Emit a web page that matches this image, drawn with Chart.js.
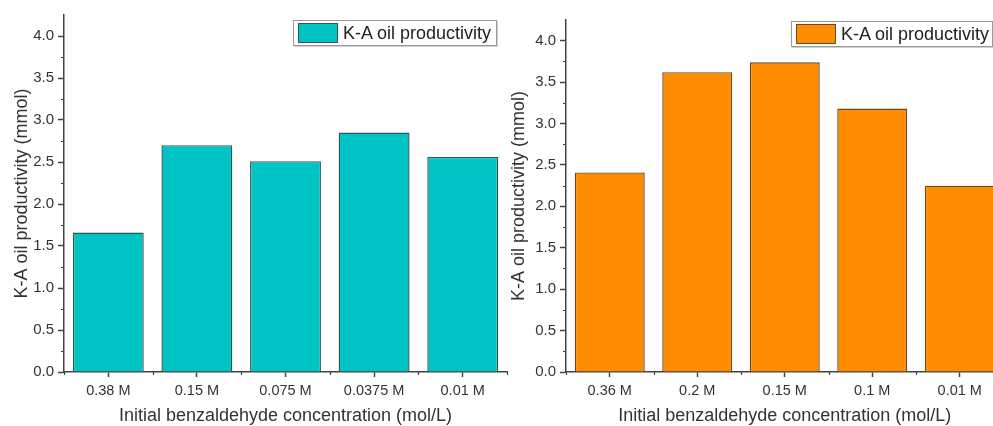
<!DOCTYPE html>
<html>
<head>
<meta charset="utf-8">
<script src="https://cdn.jsdelivr.net/npm/chart.js@4"></script>
<style>
  html, body { margin:0; padding:0; background:#fff; }
  body { width:993px; height:426px; overflow:hidden; position:relative; font-family:"Liberation Sans", Arial, sans-serif; }
  canvas { position:absolute; top:0; }
  .lg { position:absolute; height:24px; border:1px solid #9a9a9a; background:#fff; box-shadow:1px 1px 0 #d0d0d0; }
  .lg .sw { position:absolute; left:4px; top:2px; width:38px; height:18px; }
  .lg span { position:absolute; left:49px; top:1px; font-size:18px; line-height:22px; color:#222; white-space:nowrap; }
</style>
</head>
<body>
<canvas id="cA" width="520" height="426" style="left:0"></canvas>
<canvas id="cB" width="520" height="426" style="left:502px"></canvas>

<div class="lg" style="left:293px;top:20px;width:202px">
  <div class="sw" style="background:#00C4C4;border:1px solid #2A5858"></div><span>K-A oil productivity</span>
</div>
<div class="lg" style="left:791px;top:21px;width:200px">
  <div class="sw" style="background:#FF8C00;border:1px solid #6B4A1F"></div><span>K-A oil productivity</span>
</div>

<script>
// ── data ─────────────────────────────────────────────
const categoriesA   = ['0.38 M', '0.15 M', '0.075 M', '0.0375 M', '0.01 M'];
const productivityA = [1.66, 2.70, 2.51, 2.85, 2.56];

const categoriesB   = ['0.36 M', '0.2 M', '0.15 M', '0.1 M', '0.01 M'];
const productivityB = [2.41, 3.62, 3.74, 3.18, 2.25];

const SERIES_LABEL = 'K-A oil productivity';
const Y_TITLE = 'K-A oil productivity (mmol)';
const X_TITLE = 'Initial benzaldehyde concentration (mol/L)';

// ── style ────────────────────────────────────────────
const AXIS = '#444';
const TEXT = '#333';
const FONT = '"Liberation Sans", Arial, sans-serif';

// minor ticks: y between majors, x at category boundaries
const minorTicks = {
  id: 'minorTicks',
  afterDraw(chart) {
    const { ctx, scales: { x, y } } = chart;
    ctx.save();
    ctx.strokeStyle = AXIS;
    ctx.lineWidth = 1.2;
    ctx.beginPath();
    for (let v = 0.25; v < y.max; v += 0.5) {
      const py = Math.round(y.getPixelForValue(v)) + 0.5;
      ctx.moveTo(y.right - 3, py); ctx.lineTo(y.right, py);
    }
    const n = chart.data.labels.length;
    for (let i = 0; i <= n; i++) {
      const px = Math.round(x.getPixelForValue(i - 0.5)) + 0.5;
      ctx.moveTo(px, x.top); ctx.lineTo(px, x.top + 3);
    }
    ctx.stroke();
    ctx.restore();
  }
};

function makeChart(id, labels, values, fill, edge, pad, yTitlePad) {
  return new Chart(document.getElementById(id), {
    type: 'bar',
    data: {
      labels,
      datasets: [{
        label: SERIES_LABEL,
        data: values,
        backgroundColor: fill,
        borderColor: edge,
        borderWidth: 1.4,
        categoryPercentage: 1,
        barPercentage: 0.8,
      }],
    },
    options: {
      responsive: false,
      animation: false,
      layout: { padding: pad },
      plugins: { legend: { display: false }, tooltip: { enabled: false } },
      scales: {
        x: {
          afterFit: s => { s.height = 54; },
          grid: { offset: false, drawOnChartArea: false, drawTicks: true, tickLength: 5, tickColor: AXIS, tickWidth: 1.5 },
          border: { color: AXIS, width: 1.5 },
          ticks: { color: TEXT, font: { family: FONT, size: 14.5 }, padding: 5, maxRotation: 0 },
          title: { display: true, text: X_TITLE, color: TEXT, font: { family: FONT, size: 18, lineHeight: 1.1 }, padding: { top: 0, bottom: 0 } },
        },
        y: {
          min: 0, max: 4.25,
          afterFit: s => { s.width = 64; },
          grid: { drawOnChartArea: false, drawTicks: true, tickLength: 6, tickColor: AXIS, tickWidth: 1.5 },
          border: { color: AXIS, width: 1.5 },
          ticks: {
            stepSize: 0.5, includeBounds: false, color: TEXT, padding: 4,
            font: { family: FONT, size: 15 },
            callback: v => v.toFixed(1),
          },
          title: { display: true, text: Y_TITLE, color: TEXT, font: { family: FONT, size: 18, lineHeight: 1.2 }, padding: { top: yTitlePad, bottom: 0 } },
        },
      },
    },
    plugins: [minorTicks],
  });
}

makeChart('cA', categoriesA, productivityA, '#00C4C4', '#2A5858', { left: 0, right: 13, top: 15, bottom: 0 }, 11);
makeChart('cB', categoriesB, productivityB, '#FF8C00', '#6B4A1F', { left: 0, right: 18.5, top: 20, bottom: 0 }, 6);
</script>
</body>
</html>
